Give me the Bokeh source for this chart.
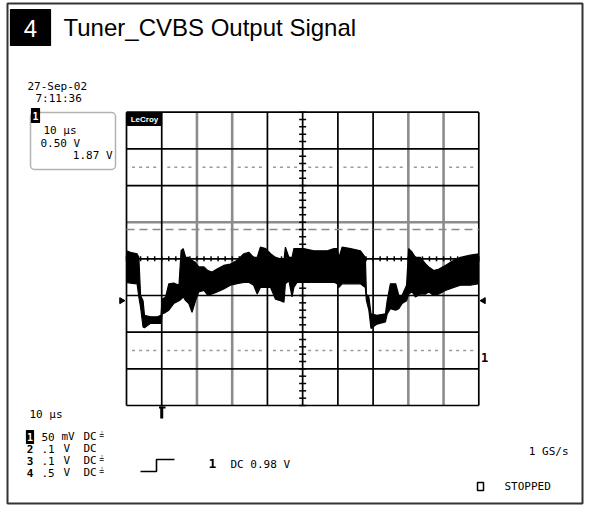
import numpy as np
from bokeh.plotting import figure
from bokeh.models import Range1d, Label, BoxAnnotation
from bokeh.embed import file_html
from bokeh.resources import INLINE

# ---------------- data ----------------
# time in microseconds, voltage in mV relative to screen centre (50 mV/div)
t_us = [0.0, 1.1, 3.0, 3.5, 4.0, 4.7, 5.1, 6.8, 8.7, 9.8,
        10.1, 11.1, 12.0, 13.4, 14.9, 15.5, 16.1, 16.8, 17.7, 18.6,
        19.6, 20.5, 22.0, 23.1, 24.3, 25.7, 27.6, 29.5, 31.4, 33.3,
        34.7, 36.1, 37.1, 38.0, 39.5, 40.9, 42.3, 43.7, 44.7, 45.1,
        46.1, 47.0, 47.5, 48.4, 50.3, 53.2, 55.1, 57.0, 58.9, 59.8,
        60.3, 61.2, 63.6, 66.4, 67.8, 68.1, 68.8, 69.4, 71.1, 73.5,
        74.0, 74.9, 76.4, 77.3, 78.2, 79.5, 80.1, 81.1, 82.0, 83.4,
        84.9, 85.8, 87.2, 88.7, 90.5, 92.9, 94.8, 97.6, 100.0]
upper_mv = [11, 9, 7, 2, -50, -57, -77, -79, -79, -77,
            -55, -52, -34, -33, -36, 11, 14, 2, 2, -2,
            -5, -11, -11, -16, -18, -14, -9, -7, -2, 7,
            9, 2, 2, 16, 14, 7, 2, 0, -2, 16,
            2, 2, 14, 14, 14, 11, 11, 11, 14, 14,
            2, 16, 14, 11, 2, -48, -52, -75, -77, -75,
            -57, -34, -34, -50, -50, -36, 14, 9, 2, 2,
            -7, -11, -16, -14, -9, -2, 2, 5, 7]
lower_mv = [-32, -33, -34, -52, -66, -93, -94, -88, -88, -88,
            -75, -73, -70, -61, -57, -55, -52, -57, -61, -73,
            -57, -45, -43, -50, -48, -45, -41, -36, -34, -32,
            -32, -36, -48, -39, -39, -39, -55, -57, -59, -34,
            -30, -52, -39, -32, -32, -32, -32, -32, -32, -34,
            -39, -34, -34, -34, -39, -57, -70, -95, -89, -86,
            -75, -68, -70, -68, -61, -57, -48, -45, -52, -48,
            -48, -45, -50, -48, -43, -39, -36, -36, -34]

US_PER_DIV = 10
MV_PER_DIV = 50
H_DIVS = 10
V_DIVS = 8
gray_time_lines_us = [20, 30, 80, 90]
gray_level_lines_mv = [50]
dotted_levels_mv = [125, -125]
dashed_level_mv = 40
side_marker_mv = -57
trace_marker_mv = -135
trigger_pos_us = 10

title_number = "4"
title_text = "Tuner_CVBS Output Signal"
date_text = "27-Sep-02"
clock_text = "7:11:36"
box_label = "1"
box_lines = ["10 µs", "0.50 V", "1.87 V"]
timebase_text = "10 µs"
ch_numbers = ["1", "2", "3", "4"]
ch_values = ["50", ".1", ".1", ".5"]
ch_units = ["mV", "V", "V", "V"]
ch_coupling = ["DC", "DC", "DC", "DC"]
ch_bwl = [True, False, True, True]
trig_source = "1"
trig_text = "DC 0.98 V"
rate_text = "1 GS/s"
status_text = "STOPPED"
logo_text = "LeCroy"

# ---------------- layout (pixel positions of the picture) ----------------
W, H = 584, 505
GRID_L, GRID_R = 126.0, 478.3
GRID_T, GRID_B = 111.7, 405.0
T_SPAN = H_DIVS * US_PER_DIV
V_HALF = V_DIVS * MV_PER_DIV / 2
PX_US = (GRID_R - GRID_L) / T_SPAN
PX_MV = (GRID_B - GRID_T) / (2 * V_HALF)
MID_Y = (GRID_T + GRID_B) / 2


def tx(px):
    return (px - GRID_L) / PX_US


def vy(py):
    return (MID_Y - py) / PX_MV


MONO = "DejaVu Sans Mono"
SANS = "Liberation Sans"

p = figure(width=W, height=H,
           x_range=Range1d(tx(0), tx(W)),
           y_range=Range1d(vy(H), vy(0)),
           x_axis_type=None, y_axis_type=None,
           toolbar_location=None, output_backend="svg",
           min_border=0, background_fill_color="white",
           border_fill_color="white")
p.title.visible = False
p.outline_line_color = None
p.xgrid.visible = False
p.ygrid.visible = False

# outer frame of the picture
p.quad(left=tx(7), right=tx(582), top=vy(3), bottom=vy(503),
       fill_color=None, line_color="#333333", line_width=2)

# ---------------- graticule ----------------
vt = [i * US_PER_DIV for i in range(H_DIVS + 1)]
hv = [-V_HALF + j * MV_PER_DIV for j in range(V_DIVS + 1)]
gv = [t for t in vt if t in gray_time_lines_us]
bv = [t for t in vt if t not in gray_time_lines_us]
gh = [v for v in hv if v in gray_level_lines_mv]
bh = [v for v in hv if v not in gray_level_lines_mv]

p.segment(x0=gv, y0=-V_HALF, x1=gv, y1=V_HALF, line_color="#8c8c8c", line_width=2.6)
p.segment(x0=0, y0=gh, x1=T_SPAN, y1=gh, line_color="#8c8c8c", line_width=2.6)
p.segment(x0=bv, y0=-V_HALF, x1=bv, y1=V_HALF, line_color="black", line_width=1.7)
p.segment(x0=0, y0=bh, x1=T_SPAN, y1=bh, line_color="black", line_width=1.7)

dot_t = [k * US_PER_DIV / 5 for k in range(H_DIVS * 5 + 1) if k % 5]
dx, dy = [], []
for lvl in dotted_levels_mv:
    dx += dot_t
    dy += [lvl] * len(dot_t)
p.scatter(x=dx, y=dy, marker="dash", size=3, line_color="#9a9a9a", line_width=1.5)

p.segment(x0=0, y0=dashed_level_mv, x1=T_SPAN, y1=dashed_level_mv,
          line_color="#8a8a8a", line_width=1.6, line_dash="8 5")

tick_v = [-V_HALF + k * MV_PER_DIV / 5 for k in range(V_DIVS * 5 + 1)]
p.scatter(x=T_SPAN / 2, y=tick_v, marker="dash", size=7, line_color="black", line_width=1.5)
tick_t = [k * US_PER_DIV / 5 for k in range(H_DIVS * 5 + 1)]
p.scatter(x=tick_t, y=0, marker="dash", angle=np.pi / 2, size=5,
          line_color="black", line_width=1.5)

# ---------------- waveform ----------------
p.varea(x=t_us, y1=lower_mv, y2=upper_mv, fill_color="black")
p.line(t_us, upper_mv, line_color="black", line_width=1.2)
p.line(t_us, lower_mv, line_color="black", line_width=1.2)

# side markers
p.scatter(x=[tx(121), tx(483)], y=[side_marker_mv, side_marker_mv], marker="triangle",
          angle=[-np.pi / 2, np.pi / 2], size=6, fill_color="black", line_color="black")

# trigger position marker
p.segment(x0=trigger_pos_us, y0=vy(406), x1=trigger_pos_us, y1=vy(418),
          line_color="black", line_width=3)
p.segment(x0=tx(158.5), y0=vy(407), x1=tx(165), y1=vy(407), line_color="black", line_width=2)


def add_text(px, py, text, size=11, font=MONO, align="left", color="black", bold=False):
    p.add_layout(Label(x=tx(px), y=vy(py), text=text, text_font=font,
                       text_font_size=f"{size}px", text_align=align,
                       text_baseline="middle", text_color=color,
                       text_font_style="bold" if bold else "normal"))


def add_box(l, r, t, b, fill="black", line="black"):
    p.quad(left=tx(l), right=tx(r), top=vy(t), bottom=vy(b),
           fill_color=fill, line_color=line, line_width=1.2)


# channel-1 trace marker on the right edge
p.add_layout(Label(x=tx(484), y=trace_marker_mv, text=ch_numbers[0], text_font=MONO,
                   text_font_size="12px", text_align="center", text_baseline="middle",
                   text_font_style="bold", text_color="black"))

# LeCroy logo
add_box(127, 161, 112.5, 125)
add_text(144, 119, logo_text, size=8, color="white", bold=True, align="center", font=SANS)

# ---------------- header ----------------
add_box(10, 50, 9, 45)
add_text(30, 28, title_number, size=24, color="white", align="center", font=SANS)
add_text(63, 27, title_text, size=24, font=SANS)

add_text(27, 86, date_text)
add_text(35, 98, clock_text)

p.add_layout(BoxAnnotation(left=tx(30), right=tx(115), top=vy(112), bottom=vy(169),
                           fill_color=None, line_color="black", line_width=1.5,
                           border_radius=4))
add_box(31, 39, 108, 122)
add_text(35, 115, box_label, size=10, color="white", bold=True, align="center")
add_text(43, 130, box_lines[0])
add_text(40, 143, box_lines[1])
add_text(112, 155, box_lines[2], align="right")

# ---------------- footer ----------------
add_text(29, 414, timebase_text)
rows_y = [436, 448, 460, 472]
for i, ry in enumerate(rows_y):
    if i == 0:
        add_box(26, 33, 430, 443)
        add_text(29.5, ry, ch_numbers[i], size=10, color="white", bold=True, align="center")
    else:
        add_text(29.5, ry, ch_numbers[i], size=11, bold=True, align="center")
    add_text(41, ry, ch_values[i])
    add_text(61 if len(ch_units[i]) > 1 else 63, ry, ch_units[i])
    add_text(83, ry, ch_coupling[i])
    if ch_bwl[i]:
        add_text(99, ry - 1, "≟", size=8)

p.line(x=[tx(140), tx(156), tx(156), tx(174)], y=[vy(471), vy(471), vy(459), vy(459)],
       line_color="black", line_width=1.6)
add_text(212, 463, trig_source, size=13, bold=True, align="center")
add_text(230, 464, trig_text)
add_text(568, 451, rate_text, align="right")
p.quad(left=tx(477), right=tx(483), top=vy(482), bottom=vy(490),
       fill_color=None, line_color="black", line_width=1.5)
add_text(504, 486, status_text)

open("out.html", "w").write(file_html(p, INLINE))
